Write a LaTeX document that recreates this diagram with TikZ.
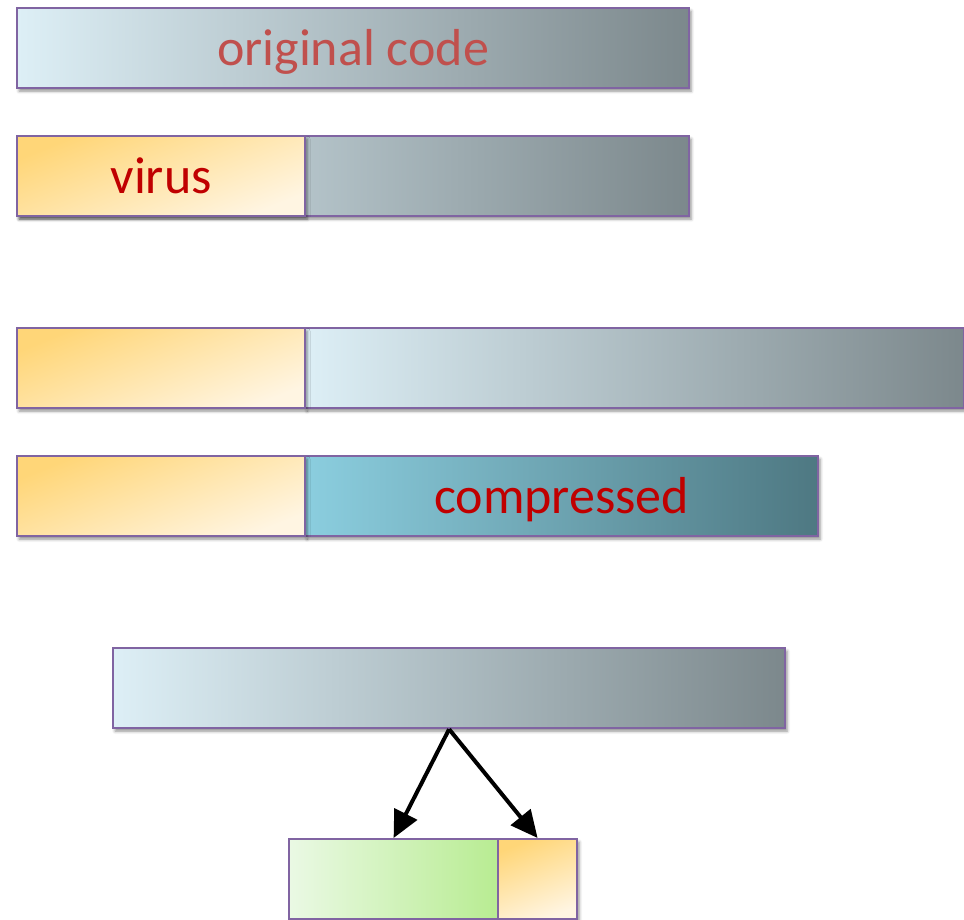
\documentclass[tikz,border=0pt]{standalone}
\usepackage{fontspec}
\setmainfont{Carlito}
\usetikzlibrary{shadows.blur,arrows.meta}
\definecolor{bord}{RGB}{128,100,162}
\definecolor{gl}{RGB}{221,239,246}
\definecolor{gr}{RGB}{124,136,140}
\definecolor{bl}{RGB}{139,206,223}
\definecolor{br}{RGB}{78,120,130}
\definecolor{grl}{RGB}{234,249,228}
\definecolor{grr}{RGB}{184,236,146}
\definecolor{or1}{RGB}{255,214,120}
\definecolor{or3}{RGB}{255,245,226}
\definecolor{txtA}{RGB}{192,80,77}
\definecolor{txtB}{RGB}{192,0,0}
\begin{document}
\begin{tikzpicture}[x=1pt,y=-1pt,
  box/.style={draw=bord, line width=2.2pt, inner sep=0pt, anchor=north west,
    minimum height=80pt,
    blur shadow={shadow xshift=2pt,shadow yshift=-3pt,shadow blur radius=3pt,shadow opacity=45}},
  grayfill/.style={left color=gl, right color=gr},
  bluefill/.style={left color=bl, right color=br},
  greenfill/.style={left color=grl, right color=grr},
  orangefill/.style={top color=or1, bottom color=or3, shading angle=22},
  bigtext/.style={font=\fontsize{52}{60}\selectfont, text height=35pt, text depth=0pt},
  arr/.style={line width=4pt, -{Triangle[length=27pt,width=25pt]}}
]
\useasboundingbox (0,0) rectangle (964,920);
% row 1
\node[box, grayfill, minimum width=672pt, bigtext, text=txtA] (orig) at (16,7) {original code};
% row 2
\node[box, grayfill, minimum width=672pt] (orig2) at (16,135) {};
\node[box, orangefill, minimum width=288pt, bigtext, text=txtB] (virus) at (16,135) {virus};
% row 3
\node[box, grayfill, minimum width=659pt] (long) at (304,327) {};
\node[box, orangefill, minimum width=288pt] (v3) at (16,327) {};
% row 4
\node[box, bluefill, minimum width=513pt, bigtext, text=txtB] (comp) at (304,455) {compressed};
\node[box, orangefill, minimum width=288pt] (v4) at (16,455) {};
% bottom
\node[box, grayfill, minimum width=672pt] (bot) at (112,647) {};
\node[box, greenfill, minimum width=209pt] (green) at (288,838) {};
\node[box, orangefill, minimum width=79pt] (small) at (497,838) {};
\draw[arr] (bot.south) -- (green.north);
\draw[arr] (bot.south) -- (small.north);
\end{tikzpicture}
\end{document}
